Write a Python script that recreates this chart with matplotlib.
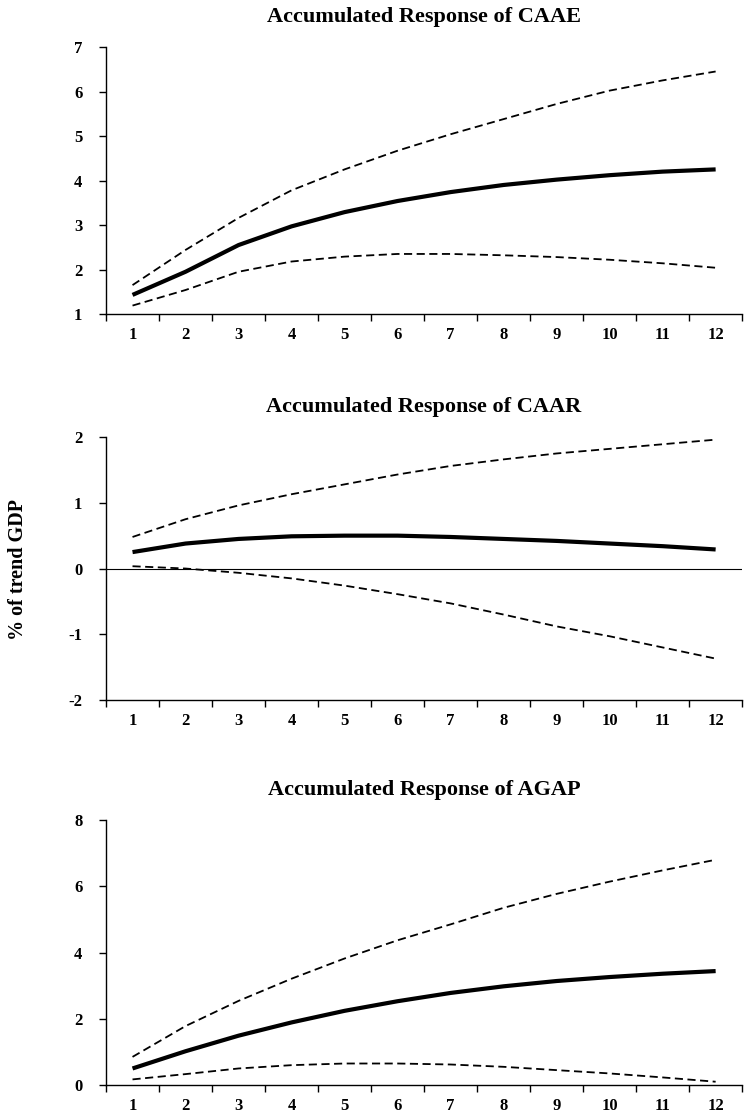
import numpy as np
import matplotlib
matplotlib.use("Agg")
import matplotlib.pyplot as plt

plt.rcParams['font.family'] = ['Liberation Serif', 'DejaVu Serif']
plt.rcParams['font.weight'] = 'bold'

periods = list(range(1, 13))

# Accumulated response of CAAE
caae_resp = [1.43, 1.95, 2.55, 2.97, 3.29, 3.54, 3.74, 3.90, 4.02, 4.12, 4.20, 4.25]
caae_up = [1.65, 2.44, 3.16, 3.78, 4.25, 4.67, 5.04, 5.38, 5.72, 6.02, 6.25, 6.45]
caae_lo = [1.19, 1.54, 1.95, 2.18, 2.29, 2.35, 2.35, 2.32, 2.28, 2.22, 2.14, 2.04]

# Accumulated response of CAAR
caar_resp = [0.25, 0.38, 0.45, 0.49, 0.50, 0.50, 0.48, 0.45, 0.42, 0.38, 0.34, 0.29]
caar_up = [0.48, 0.75, 0.96, 1.13, 1.28, 1.43, 1.56, 1.66, 1.75, 1.82, 1.89, 1.96]
caar_lo = [0.035, 0.0, -0.065, -0.15, -0.26, -0.39, -0.53, -0.70, -0.88, -1.03, -1.20, -1.37]

# Accumulated response of AGAP
agap_resp = [0.50, 1.02, 1.49, 1.89, 2.24, 2.53, 2.78, 2.98, 3.14, 3.26, 3.36, 3.44]
agap_up = [0.85, 1.78, 2.54, 3.21, 3.82, 4.37, 4.85, 5.35, 5.77, 6.14, 6.48, 6.80]
agap_lo = [0.17, 0.33, 0.50, 0.60, 0.65, 0.65, 0.62, 0.55, 0.45, 0.35, 0.23, 0.10]

titles = ['Accumulated Response of CAAE', 'Accumulated Response of CAAR',
          'Accumulated Response of AGAP']
yticks_list = [[1, 2, 3, 4, 5, 6, 7], [-2, -1, 0, 1, 2], [0, 2, 4, 6, 8]]
ylims = [(1, 7), (-2, 2), (0, 8)]

fig = plt.figure(figsize=(7.44, 11.14), dpi=100)
boxes = [
    [0.1425, 0.7181, 0.855, 0.2397],
    [0.1425, 0.3716, 0.855, 0.2361],
    [0.1425, 0.0260, 0.855, 0.2379],
]
series = [(caae_resp, caae_up, caae_lo), (caar_resp, caar_up, caar_lo),
          (agap_resp, agap_up, agap_lo)]

for i in range(3):
    ax = fig.add_axes(boxes[i])
    resp, up, lo = series[i]
    ax.plot(periods, resp, color='black', lw=3.0, solid_capstyle='butt')
    ax.plot(periods, up, color='black', lw=1.3, linestyle=(0, (4.5, 2.5)))
    ax.plot(periods, lo, color='black', lw=1.3, linestyle=(0, (4.5, 2.5)))
    if i == 1:
        ax.axhline(0, color='black', lw=0.8)

    ax.set_xlim(0.5, 12.5)
    ax.set_ylim(*ylims[i])
    ax.spines['top'].set_visible(False)
    ax.spines['right'].set_visible(False)
    ax.spines['left'].set_linewidth(1.0)
    ax.spines['bottom'].set_linewidth(1.0)

    ax.set_xticks(periods)
    ax.set_xticklabels([str(p) for p in periods])
    ax.set_xticks(np.arange(0.5, 13, 1), minor=True)
    ax.tick_params(axis='x', which='major', length=0, pad=9, labelsize=12)
    ax.tick_params(axis='x', which='minor', length=5, width=1.0, direction='out')

    yt = yticks_list[i]
    ax.set_yticks(yt)
    ax.set_yticklabels([str(v) for v in yt])
    ax.tick_params(axis='y', length=5, width=1.0, direction='out', pad=12, labelsize=12)

    ax.set_title(titles[i], fontsize=16, fontweight='bold', pad=18)

fig.text(18 / 744, 1 - 570 / 1114, '% of trend GDP', rotation=90,
         ha='center', va='center', fontsize=14.5, fontweight='bold')

fig.savefig('out.png', dpi=100)
